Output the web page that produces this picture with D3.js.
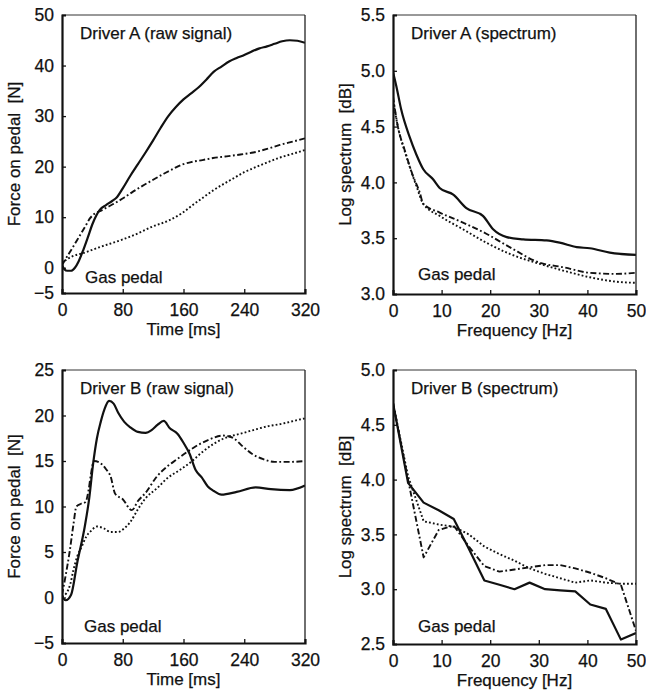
<!DOCTYPE html>
<html>
<head>
<meta charset="utf-8">
<script src="https://cdn.jsdelivr.net/npm/d3@7"></script>
<style>
  html, body { margin: 0; padding: 0; background: #fff; }
  svg { display: block; }
  text { font-family: "Liberation Sans", Arial, Helvetica, sans-serif; fill: #111; stroke: #111; stroke-width: 0.25px; }
</style>
</head>
<body>
<svg id="chart" width="646" height="692"></svg>
<script>
// ---- Driver A, raw force signal [time ms, force N]
const rawA_solid = [[0,0.6],[3,-0.3],[7,-0.6],[12,-0.6],[17,0],[22,1.3],[28,3.5],[34,6],[40,8.6],[45,10.3],[50,11.5],[58,12.4],[66,13.2],[72,13.9],[80,15.7],[90,18.2],[100,20.5],[110,22.8],[120,25.2],[130,27.7],[140,30.0],[150,31.8],[160,33.3],[170,34.5],[180,35.7],[190,37.2],[200,38.8],[210,39.8],[220,40.8],[230,41.5],[240,42.1],[250,42.8],[260,43.4],[270,43.8],[280,44.3],[290,44.8],[300,45.0],[310,44.9],[320,44.5]];
const rawA_dashdot = [[0,0.5],[5,1.8],[10,3.0],[20,5.5],[30,8.0],[37,9.8],[44,10.8],[50,11.2],[60,12.0],[70,12.8],[82,13.9],[94,15.1],[106,16.2],[120,17.4],[134,18.6],[147,19.6],[158,20.4],[170,20.9],[185,21.3],[199,21.7],[215,22.0],[235,22.4],[252,22.8],[270,23.5],[287,24.3],[305,25.0],[320,25.6]];
const rawA_dotted = [[0,0.8],[6,1.6],[13,2.2],[28,2.9],[50,4.1],[80,5.6],[100,6.8],[120,8.2],[140,9.3],[158,10.8],[173,12.5],[186,13.9],[199,15.3],[212,16.5],[226,17.7],[240,18.9],[252,19.7],[270,20.8],[287,21.8],[305,22.6],[320,23.3]];

// ---- Driver A, log spectrum [frequency Hz, dB]
const specA_solid = [[0,4.99],[0.7,4.86],[1.7,4.65],[3.4,4.41],[4.8,4.25],[6.2,4.12],[8.2,4.03],[9.6,3.95],[12.4,3.89],[15.1,3.77],[18.5,3.70],[20.6,3.58],[23.4,3.51],[26.8,3.49],[31.6,3.48],[34.3,3.46],[37.8,3.42],[40.5,3.41],[44.6,3.37],[50,3.35]];
const specA_dashdot = [[0,4.77],[1,4.5],[2.4,4.29],[4.1,4.06],[5.5,3.91],[6.2,3.81],[9.6,3.73],[14.4,3.64],[19.2,3.54],[24,3.42],[30.2,3.28],[35,3.24],[40.5,3.19],[46,3.18],[50,3.19]];
const specA_dotted = [[0,4.74],[1,4.5],[2.7,4.24],[4.8,3.97],[6.2,3.81],[9.6,3.70],[14.4,3.58],[19.2,3.46],[24,3.36],[30.2,3.27],[35,3.21],[40.5,3.15],[46,3.11],[50,3.10]];

// ---- Driver B, raw force signal [time ms, force N]
const rawB_solid = [[0,0.1],[5,-0.3],[12,0.3],[20,3.8],[30,7.8],[36,11],[41,14.7],[46,17.5],[51,19.3],[56,20.7],[62,21.6],[68,21.3],[74,20.3],[82,19.3],[90,18.7],[100,18.2],[110,18.1],[118,18.4],[126,19.0],[134,19.4],[142,18.6],[152,18.0],[160,17.0],[168,15.8],[176,14.0],[184,13.2],[192,12.2],[200,11.7],[210,11.3],[230,11.6],[255,12.1],[275,11.9],[300,11.8],[320,12.3]];
const rawB_dashdot = [[0,0.3],[5,2.5],[10,5.0],[15,8],[19,10],[25,10.3],[31,10.5],[35,11.8],[38,13.5],[42,15.0],[50,14.8],[58,14.1],[64,13.3],[70,11.4],[80,10.8],[92,9.6],[100,10.6],[110,11.5],[125,13.3],[140,14.5],[150,15.1],[165,16.0],[180,16.8],[195,17.4],[212,17.8],[226,17.5],[238,16.6],[250,15.8],[265,15.2],[280,14.9],[300,14.9],[320,15.0]];
const rawB_dotted = [[0,0.1],[6,0.5],[11,1.5],[15,3.0],[20,4.5],[26,5.6],[32,6.7],[38,7.3],[46,7.8],[55,7.6],[64,7.2],[74,7.2],[82,7.6],[90,8.3],[100,9.7],[110,10.9],[125,12.0],[140,13.2],[155,14.0],[170,14.9],[185,16.0],[200,16.9],[217,17.6],[235,18.0],[252,18.4],[270,18.8],[290,19.1],[305,19.4],[320,19.7]];

// ---- Driver B, log spectrum (piecewise linear) [frequency Hz, dB]
const specB_freq    = [0, 3.1, 6.3, 9.4, 12.5, 15.6, 18.8, 21.9, 25, 28.1, 31.3, 34.4, 37.5, 40.6, 43.8, 46.9, 50];
const specB_solid   = [4.70, 3.97, 3.79, 3.72, 3.64, 3.37, 3.08, 3.04, 3.00, 3.06, 3.00, 2.99, 2.98, 2.86, 2.82, 2.54, 2.60];
const specB_dashdot = [4.70, 4.00, 3.29, 3.54, 3.58, 3.39, 3.21, 3.16, 3.18, 3.20, 3.22, 3.22, 3.19, 3.15, 3.10, 3.04, 2.62];
const specB_dotted  = [4.70, 4.03, 3.62, 3.59, 3.57, 3.50, 3.39, 3.32, 3.26, 3.19, 3.14, 3.10, 3.06, 3.08, 3.06, 3.05, 3.05];

// ---- Axis ticks
const timeTicks = [0, 80, 160, 240, 320];
const freqTicks = [0, 10, 20, 30, 40, 50];
const forceTicksA = [-5, 0, 10, 20, 30, 40, 50];
const forceTicksB = [-5, 0, 5, 10, 15, 20, 25];
const specTicksA = [3.0, 3.5, 4.0, 4.5, 5.0, 5.5];
const specTicksB = [2.5, 3.0, 3.5, 4.0, 4.5, 5.0];

const svg = d3.select("#chart");

const lineStyles = {
  solid:   { width: 2.2, dash: null },
  dashdot: { width: 1.9, dash: "6,2.5,1.8,2.5" },
  dotted:  { width: 1.9, dash: "1.8,2.2" }
};

function zipSpec(vals) { return specB_freq.map((f, i) => [f, vals[i]]); }

function panel(cfg) {
  const { left, right, top, bottom } = cfg.box;
  const x = d3.scaleLinear().domain(cfg.xDomain).range([left, right]);
  const y = d3.scaleLinear().domain(cfg.yDomain).range([bottom, top]);
  const g = svg.append("g");

  // clip to plot area
  const clipId = "clip" + Math.round(left) + "_" + Math.round(top);
  svg.append("clipPath").attr("id", clipId)
    .append("rect").attr("x", left).attr("y", top - 1)
    .attr("width", right - left).attr("height", bottom - top + 1);

  const line = d3.line().x(d => x(d[0])).y(d => y(d[1])).curve(cfg.curve);
  const lg = g.append("g").attr("clip-path", `url(#${clipId})`);
  cfg.series.forEach(s => {
    const st = lineStyles[s.style];
    lg.append("path").datum(s.data)
      .attr("d", line)
      .attr("fill", "none")
      .attr("stroke", "#111")
      .attr("stroke-width", st.width)
      .attr("stroke-linejoin", "round")
      .attr("stroke-dasharray", st.dash);
  });

  // frame: heavy left/bottom, light top/right
  g.append("line").attr("x1", left).attr("x2", right).attr("y1", top).attr("y2", top)
    .attr("stroke", "#333").attr("stroke-width", 1);
  g.append("line").attr("x1", right).attr("x2", right).attr("y1", top).attr("y2", bottom)
    .attr("stroke", "#222").attr("stroke-width", 1.3);

  // axes with inward ticks
  const xAxis = d3.axisBottom(x).tickValues(cfg.xTicks).tickSize(-4).tickPadding(8)
    .tickFormat(d3.format("d"));
  const yAxis = d3.axisLeft(y).tickValues(cfg.yTicks).tickSize(-4).tickPadding(8)
    .tickFormat(cfg.yFormat);
  const xa = g.append("g").attr("transform", `translate(0,${bottom})`).call(xAxis);
  const ya = g.append("g").attr("transform", `translate(${left},0)`).call(yAxis);
  [xa, ya].forEach(a => {
    a.select(".domain").attr("stroke", "#111").attr("stroke-width", 2.2);
    a.selectAll(".tick line").attr("stroke", "#111").attr("stroke-width", 1.3);
    a.selectAll(".tick text").attr("font-size", 17.5)
      .attr("font-family", "'Liberation Sans', Arial, sans-serif").attr("fill", "#111");
  });
  xa.selectAll(".tick text").attr("dy", "0.85em");
  // keep end ticks off the corners
  xa.selectAll(".tick line").filter(d => d === cfg.xDomain[0] || d === cfg.xDomain[1]).remove();
  ya.selectAll(".tick line").filter(d => d === cfg.yDomain[0] || d === cfg.yDomain[1]).remove();

  // titles
  g.append("text").attr("x", (left + right) / 2).attr("y", bottom + 42)
    .attr("text-anchor", "middle").attr("font-size", 17).text(cfg.xTitle);
  g.append("text")
    .attr("transform", `translate(${cfg.yTitleX},${(top + bottom) / 2}) rotate(-90)`)
    .attr("text-anchor", "middle").attr("font-size", 17)
    .attr("xml:space", "preserve").style("white-space", "pre").text(cfg.yTitle);

  // in-plot labels
  g.append("text").attr("x", left + 18).attr("y", top + 24)
    .attr("font-size", 17).text(cfg.label);
  g.append("text").attr("x", left + cfg.gasDx).attr("y", bottom - cfg.gasDy)
    .attr("font-size", 17).text("Gas pedal");
}

const smooth = d3.curveMonotoneX;

panel({
  box: { left: 62, right: 305, top: 15, bottom: 293 },
  xDomain: [0, 320], yDomain: [-5, 50],
  xTicks: timeTicks, yTicks: forceTicksA, yFormat: d => d < 0 ? "\u2212" + Math.abs(d) : d,
  xTitle: "Time [ms]", yTitle: "Force on pedal  [N]", yTitleX: 20,
  label: "Driver A (raw signal)", gasDx: 23, gasDy: 10,
  curve: smooth,
  series: [
    { data: rawA_solid, style: "solid" },
    { data: rawA_dashdot, style: "dashdot" },
    { data: rawA_dotted, style: "dotted" }
  ]
});

panel({
  box: { left: 393, right: 636, top: 15, bottom: 294 },
  xDomain: [0, 50], yDomain: [3.0, 5.5],
  xTicks: freqTicks, yTicks: specTicksA, yFormat: d3.format(".1f"),
  xTitle: "Frequency [Hz]", yTitle: "Log spectrum  [dB]", yTitleX: 351,
  label: "Driver A (spectrum)", gasDx: 25, gasDy: 14,
  curve: smooth,
  series: [
    { data: specA_solid, style: "solid" },
    { data: specA_dashdot, style: "dashdot" },
    { data: specA_dotted, style: "dotted" }
  ]
});

panel({
  box: { left: 62, right: 305, top: 370, bottom: 643 },
  xDomain: [0, 320], yDomain: [-5, 25],
  xTicks: timeTicks, yTicks: forceTicksB, yFormat: d => d < 0 ? "\u2212" + Math.abs(d) : d,
  xTitle: "Time [ms]", yTitle: "Force on pedal  [N]", yTitleX: 20,
  label: "Driver B (raw signal)", gasDx: 22, gasDy: 11,
  curve: smooth,
  series: [
    { data: rawB_solid, style: "solid" },
    { data: rawB_dashdot, style: "dashdot" },
    { data: rawB_dotted, style: "dotted" }
  ]
});

panel({
  box: { left: 393, right: 636, top: 370, bottom: 644 },
  xDomain: [0, 50], yDomain: [2.5, 5.0],
  xTicks: freqTicks, yTicks: specTicksB, yFormat: d3.format(".1f"),
  xTitle: "Frequency [Hz]", yTitle: "Log spectrum  [dB]", yTitleX: 351,
  label: "Driver B (spectrum)", gasDx: 25, gasDy: 12,
  curve: d3.curveLinear,
  series: [
    { data: zipSpec(specB_solid), style: "solid" },
    { data: zipSpec(specB_dashdot), style: "dashdot" },
    { data: zipSpec(specB_dotted), style: "dotted" }
  ]
});
</script>
</body>
</html>
